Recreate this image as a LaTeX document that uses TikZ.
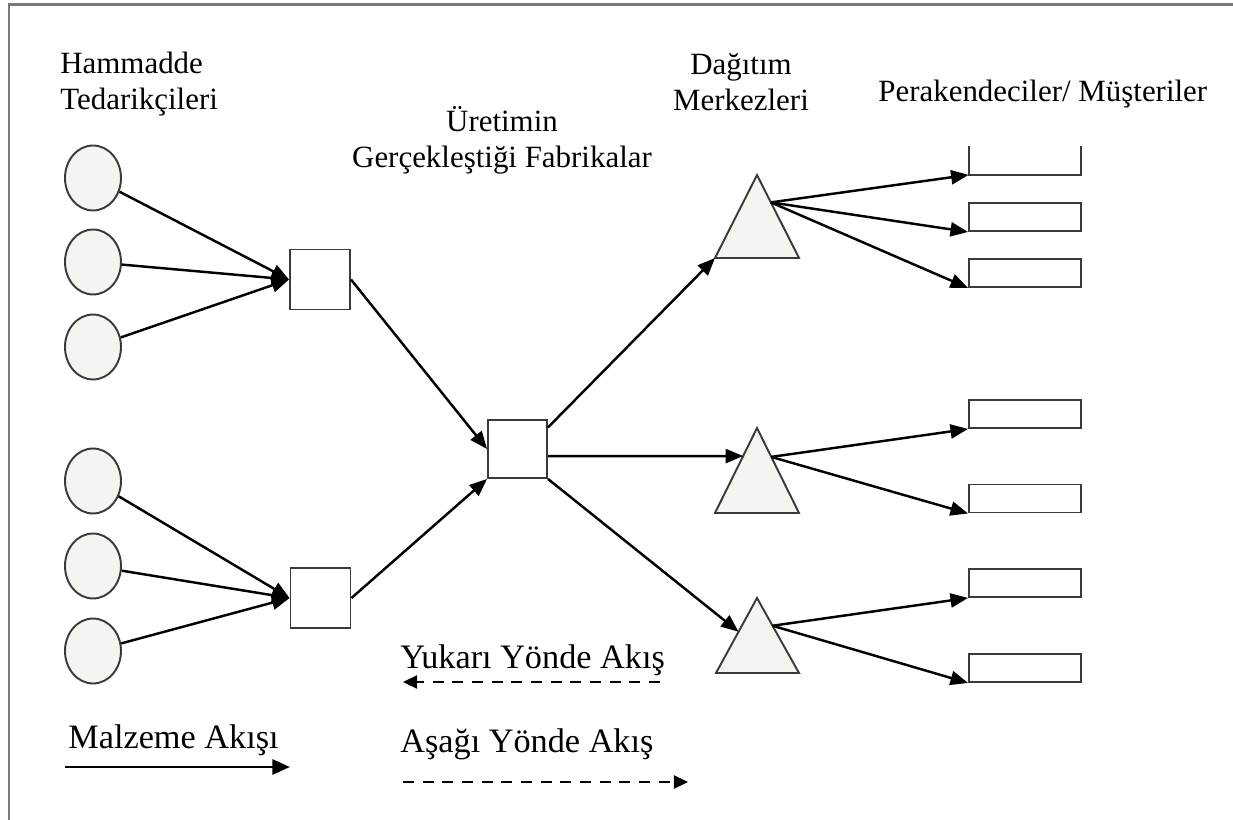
\documentclass[tikz,border=0pt]{standalone}
\usepackage{fontspec}
\setmainfont{Liberation Serif}
\usetikzlibrary{arrows.meta,shapes.geometric,calc}
\definecolor{pale}{HTML}{F3F5F0}
\definecolor{edge}{HTML}{3A3A3A}
\definecolor{framegray}{HTML}{7A7A7A}

\begin{document}
\begin{tikzpicture}
        [x=0.02cm,y=-0.02cm,
         supp/.style={draw=edge,ellipse,fill=pale,line width=1.1pt,
                      minimum width=1.12cm,minimum height=1.3cm,inner sep=0pt},
         fab/.style={draw=edge,fill=white,line width=1.1pt,
                     minimum width=1.2cm,minimum height=1.2cm,inner sep=0pt},
         shop/.style={minimum width=2.24cm,minimum height=0.56cm,inner sep=0pt},
         dc/.style={draw=edge,fill=pale,line width=1.1pt,line join=miter},
         flow/.style={-{Triangle[length=10pt,width=8pt]},line width=1.4pt},
         dflow/.style={-{Triangle[length=8pt,width=7.5pt]},line width=1pt,
                       dash pattern=on 6.2pt off 5pt},
         lbl/.style={inner sep=0pt,font=\fontsize{17.6}{20.4}\selectfont},
         leg/.style={inner sep=0pt,font=\fontsize{19.5}{23}\selectfont}]
        \useasboundingbox (0,0) rectangle (1233,820);
        \draw[framegray,line width=1.7pt] (1233,5) -- (9,5) -- (9,820);

        \node[lbl,anchor=north west,align=left] (lsupp) at (60,52) {Hammadde\\Tedarikçileri};
        \node[lbl,anchor=north,align=center] (lfab) at (502,106) {Üretimin\\Gerçekleştiği Fabrikalar};
        \node[lbl,anchor=north,align=center] (ldc) at (741,53) {Dağıtım\\Merkezleri};
        \node[lbl,anchor=base west] (lshop) at (878,102) {Perakendeciler/ Müşteriler};

        \node[supp] (h1) at (93,178) {};
        \node[supp] (h2) at (93,262) {};
        \node[supp] (h3) at (93,347) {};
        \node[supp] (h4) at (93,481) {};
        \node[supp] (h5) at (93,566) {};
        \node[supp] (h6) at (93,651) {};

        \node[fab] (s1) at (320,279.5) {};
        \node[fab] (s2) at (320.5,598) {};
        \node[fab,minimum width=1.18cm,minimum height=1.16cm] (c) at (517.5,449) {};

        \coordinate (t1a) at (757,175); \coordinate (t1l) at (715,258); \coordinate (t1r) at (799,258);
        \coordinate (t2a) at (757,428); \coordinate (t2l) at (715,513); \coordinate (t2r) at (799,513);
        \coordinate (t3a) at (757,598); \coordinate (t3l) at (716,673); \coordinate (t3r) at (799,673);
        \draw[dc] (t1a) -- (t1l) -- (t1r) -- cycle;
        \draw[dc] (t2a) -- (t2l) -- (t2r) -- cycle;
        \draw[dc] (t3a) -- (t3l) -- (t3r) -- cycle;

        \node[shop] (r1) at (1025,160.5) {};
        \draw[edge,line width=1.1pt] (r1.north west) -- (r1.south west) -- (r1.south east) -- (r1.north east);
        \node[shop,draw=edge,line width=1.1pt] (r2) at (1025,217) {};
        \node[shop,draw=edge,line width=1.1pt] (r3) at (1025,273) {};
        \node[shop,draw=edge,line width=1.1pt] (r4) at (1025,414) {};
        \node[shop,draw=edge,line width=1.1pt] (r5) at (1025,498.5) {};
        \node[shop,draw=edge,line width=1.1pt] (r6) at (1025,583) {};
        \node[shop,draw=edge,line width=1.1pt] (r7) at (1025,668) {};

        \draw[flow] (h1) -- (s1.west);
        \draw[flow] (h2) -- (s1.west);
        \draw[flow] (h3) -- (s1.west);
        \draw[flow] (h4) -- (s2.west);
        \draw[flow] (h5) -- (s2.west);
        \draw[flow] (h6) -- (s2.west);
        \draw[flow] (s1.east) -- (c.west);
        \draw[flow] (s2.east) -- (c.south west);
        \draw[flow] ($(c.north east)!0.14!(c.south east)$) -- (t1l);
        \draw[flow] ($(c.north east)!0.62!(c.south east)$) -- ($(t2a)!0.33!(t2l)$);
        \draw[flow] (c.south east) -- ($(t3a)!0.45!(t3l)$);
        \draw[flow] ($(t1a)!0.33!(t1r)$) -- (r1.south west);
        \draw[flow] ($(t1a)!0.33!(t1r)$) -- (r2.south west);
        \draw[flow] ($(t1a)!0.33!(t1r)$) -- (r3.south west);
        \draw[flow] ($(t2a)!0.34!(t2r)$) -- (r4.south west);
        \draw[flow] ($(t2a)!0.34!(t2r)$) -- (r5.south west);
        \draw[flow] ($(t3a)!0.37!(t3r)$) -- (r6.south west);
        \draw[flow] ($(t3a)!0.37!(t3r)$) -- (r7.south west);

        \node[leg,anchor=base west] (lup) at (400,668) {Yukarı Yönde Akış};
        \node[leg,anchor=base west] (ldown) at (400,752) {Aşağı Yönde Akış};
        \node[leg,anchor=base west] (lmat) at (68,748) {Malzeme Akışı};
        \coordinate (upA) at (660,682); \coordinate (upB) at (403,682);
        \coordinate (downA) at (403,782); \coordinate (downB) at (688,782);
        \coordinate (matA) at (65,767); \coordinate (matB) at (290,767);
        \draw[dflow] (upA) -- (upB);
        \draw[dflow] (downA) -- (downB);
        \draw[-{Triangle[length=10pt,width=8.5pt]},line width=1.6pt] (matA) -- (matB);
\end{tikzpicture}
\end{document}
